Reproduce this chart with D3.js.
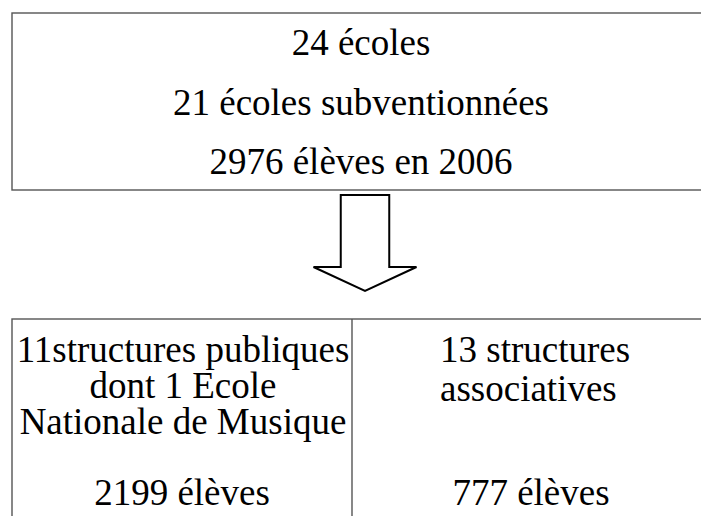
<!DOCTYPE html>
<html>
<head>
<meta charset="utf-8">
<script src="https://cdn.jsdelivr.net/npm/d3@7"></script>
<style>
  body { margin: 0; background: #fff; }
  svg { display: block; }
  .box { fill: none; stroke: #555; stroke-width: 1.4; }
</style>
</head>
<body>
<svg width="701" height="516"></svg>
<script>
// text of the summary box
const topLines = ['24 écoles', '21 écoles subventionnées', '2976 élèves en 2006'];
// the two sub-structures
const publicLines = ['11structures publiques', 'dont 1 Ecole', 'Nationale de Musique'];
const assocLines = ['13 structures', 'associatives'];
const pupils = ['2199 élèves', '777 élèves'];

const width = 701, height = 516;
const serif = '"Liberation Serif", "Times New Roman", serif';
const svg = d3.select('svg');

const label = (sel, size) => sel
  .attr('font-family', serif)
  .attr('font-size', size)
  .attr('fill', '#000');

// top box
const topBox = svg.append('g').attr('class', 'top');
topBox.append('rect')
  .attr('class', 'box')
  .attr('x', 12).attr('y', 13)
  .attr('width', 698).attr('height', 177);

topBox.selectAll('text')
  .data(topLines)
  .enter()
  .append('text')
  .call(label, 37)
  .attr('text-anchor', 'middle')
  .attr('x', 361)
  .attr('y', (d, i) => 55 + i * 59.5)
  .text(d => d);

// arrow
const ax = 365, shaftW = 48.5, headW = 103;
const arrow = [
  [ax - shaftW / 2, 195], [ax + shaftW / 2, 195], [ax + shaftW / 2, 267],
  [ax + headW / 2, 267], [ax, 291], [ax - headW / 2, 267], [ax - shaftW / 2, 267]
];
svg.append('path')
  .attr('d', d3.line()(arrow) + 'Z')
  .attr('fill', '#fff')
  .attr('stroke', '#000')
  .attr('stroke-width', 2);

// bottom table
const bottom = svg.append('g').attr('class', 'bottom');

bottom.append('rect')
  .attr('class', 'box')
  .attr('x', 12).attr('y', 319)
  .attr('width', 698).attr('height', 220);

bottom.append('line')
  .attr('class', 'box')
  .attr('x1', 352).attr('x2', 352)
  .attr('y1', 319).attr('y2', height + 5);

bottom.selectAll('text.pub')
  .data(publicLines)
  .enter()
  .append('text')
  .attr('class', 'pub')
  .call(label, 37)
  .attr('text-anchor', 'middle')
  .attr('x', 183)
  .attr('y', (d, i) => 362 + i * 36)
  .text(d => d);

bottom.selectAll('text.assoc')
  .data(assocLines)
  .enter()
  .append('text')
  .attr('class', 'assoc')
  .call(label, 37)
  .attr('x', 440)
  .attr('y', (d, i) => 362 + i * 39)
  .text(d => d);

bottom.selectAll('text.pupils')
  .data(pupils)
  .enter()
  .append('text')
  .attr('class', 'pupils')
  .call(label, 37)
  .attr('text-anchor', 'middle')
  .attr('x', (d, i) => i === 0 ? 182 : 531)
  .attr('y', 505)
  .text(d => d);
</script>
</body>
</html>
